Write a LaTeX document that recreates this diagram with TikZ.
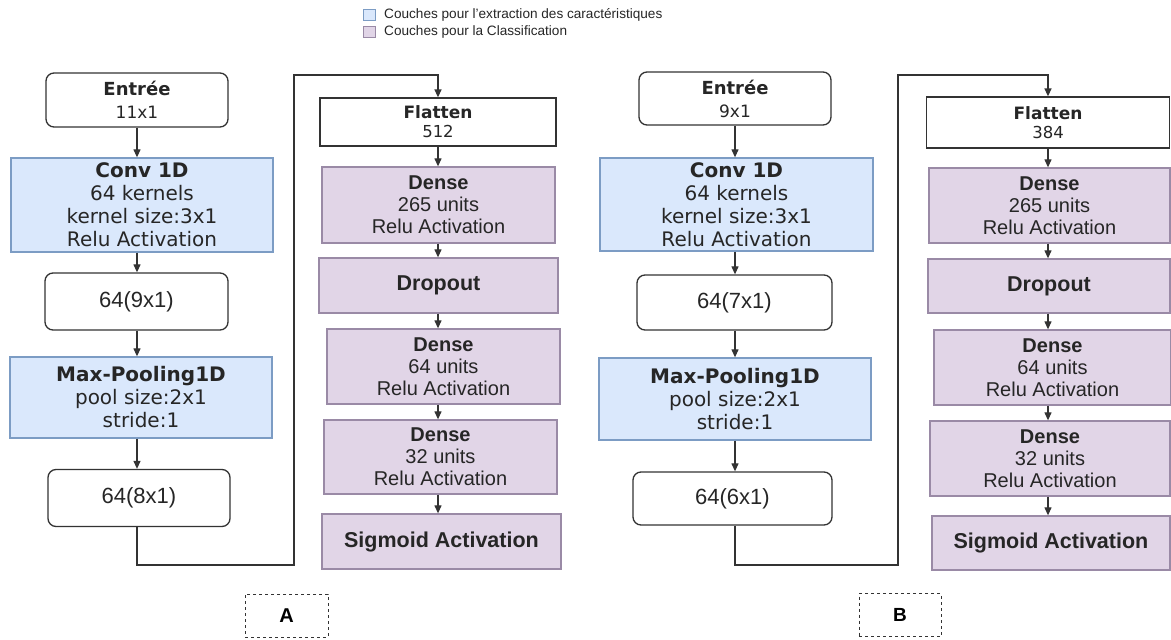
\documentclass[tikz,border=0pt]{standalone}
\usepackage{fontspec}
\setmainfont{Liberation Sans}
\newfontfamily\vfont{DejaVu Sans}
\usetikzlibrary{arrows.meta}

\definecolor{bluefill}{HTML}{DAE8FC}
\definecolor{blueline}{HTML}{7C9CC4}
\definecolor{purpfill}{HTML}{E1D5E7}
\definecolor{purpline}{HTML}{9A8AA6}
\definecolor{txt}{HTML}{262626}
\definecolor{edge}{HTML}{333333}

% font size helper (1pt = 1 drawing unit)
\newcommand{\fs}[2]{\fontsize{#1}{#2}\selectfont}

\tikzset{
  box/.style={draw, line width=1.3pt, inner sep=0pt, align=center, text=txt},
  featbox/.style={box, fill=bluefill, draw=blueline},
  clsbox/.style={box, fill=purpfill, draw=purpline},
  roundbox/.style={box, fill=white, draw=edge, rounded corners=8pt},
  plainbox/.style={box, fill=white, draw=edge},
  tagbox/.style={draw=edge, dashed, line width=0.9pt, inner sep=0pt, text=black},
  arr/.style={-{Triangle[length=8pt,width=7pt]}, line width=1.2pt, draw=edge},
  link/.style={-{Triangle[length=8pt,width=7pt]}, line width=1.4pt, draw=edge},
  vtext/.style={font=\vfont\fs{20}{23}},
  atext/.style={font=\fs{20}{22}},
  btext/.style={font=\fs{21.5}{22}\bfseries},
  ctext/.style={font=\fs{22}{23}},
  etext/.style={font=\vfont\fs{18}{23}},
  ftext/.style={font=\vfont\fs{17}{19}},
}

\begin{document}
\begin{tikzpicture}[x=1pt,y=-1pt]
\useasboundingbox (0,0) rectangle (1171,640);

% ---------- legend ----------
\node[draw=blueline, fill=bluefill, line width=0.8pt, minimum width=12pt, minimum height=11pt, inner sep=0pt] (lgA) at (369,14.5) {};
\node[draw=purpline, fill=purpfill, line width=0.8pt, minimum width=12pt, minimum height=11pt, inner sep=0pt] (lgB) at (369,32) {};
\node[anchor=west, inner sep=0pt, text=txt, font=\fs{13.6}{14}] (lgAt) at (384,14.5) {Couches pour l'extraction des caractéristiques};
\node[anchor=west, inner sep=0pt, text=txt, font=\fs{13.6}{14}] (lgBt) at (384,32) {Couches pour la Classification};

% ================= network A =================
\node[roundbox, etext, minimum width=182pt, minimum height=54pt] (entA) at (137,100)
  {\textbf{Entrée}\\\fs{17}{23}11x1};
\node[featbox, vtext, minimum width=262pt, minimum height=94pt] (convA) at (142,205)
  {\textbf{Conv 1D}\\64 kernels\\kernel size:3x1\\Relu Activation};
\node[roundbox, ctext, minimum width=183pt, minimum height=57pt] (c9A) at (136.5,301.5)
  {64(9x1)};
\node[featbox, vtext, minimum width=262pt, minimum height=81pt] (mpA) at (141,397.5)
  {\textbf{Max-Pooling1D}\\pool size:2x1\\stride:1};
\node[roundbox, ctext, minimum width=182pt, minimum height=57pt] (c8A) at (139,498)
  {64(8x1)};

\node[plainbox, ftext, minimum width=236pt, minimum height=48pt] (flA) at (438,122)
  {\textbf{Flatten}\\\fs{16.5}{19}512};
\node[clsbox, atext, minimum width=233pt, minimum height=76pt] (d1A) at (438.5,205)
  {\textbf{Dense}\\265 units\\Relu Activation};
\node[clsbox, btext, minimum width=239pt, minimum height=55pt] (drA) at (438.5,285.5)
  {Dropout};
\node[clsbox, atext, minimum width=233pt, minimum height=75pt] (d2A) at (443.5,366.5)
  {\textbf{Dense}\\64 units\\Relu Activation};
\node[clsbox, atext, minimum width=233pt, minimum height=74pt] (d3A) at (440.5,457)
  {\textbf{Dense}\\32 units\\Relu Activation};
\node[clsbox, btext, minimum width=239pt, minimum height=55pt] (sgA) at (441.5,541.5)
  {Sigmoid Activation};

\node[tagbox, font=\fs{20}{22}\bfseries, minimum width=83pt, minimum height=43pt] (tagA) at (286.5,615.5) {A};

% left column arrows
\draw[arr] (entA.south) -- (convA.north -| entA.south);
\draw[arr] (convA.south -| entA.south) -- (c9A.north -| entA.south);
\draw[arr] (c9A.south -| entA.south) -- (mpA.north -| entA.south);
\draw[arr] (mpA.south -| entA.south) -- (c8A.north -| entA.south);
% right column arrows
\draw[arr] (flA.south) -- (d1A.north -| flA.south);
\draw[arr] (d1A.south -| flA.south) -- (drA.north -| flA.south);
\draw[arr] (drA.south -| flA.south) -- (d2A.north -| flA.south);
\draw[arr] (d2A.south -| flA.south) -- (d3A.north -| flA.south);
\draw[arr] (d3A.south -| flA.south) -- (sgA.north -| flA.south);
% link from the convolution branch to Flatten
\coordinate (jA1) at (294,565);
\coordinate (jA2) at (294,75);
\draw[link] (c8A.south -| entA.south) |- (jA1) -- (jA2) -| (flA.north);

% ================= network B =================
\node[roundbox, etext, minimum width=192pt, minimum height=53pt] (entB) at (735,98.5)
  {\textbf{Entrée}\\\fs{17}{23}9x1};
\node[featbox, vtext, minimum width=273pt, minimum height=93pt] (convB) at (736.5,204.5)
  {\textbf{Conv 1D}\\64 kernels\\kernel size:3x1\\Relu Activation};
\node[roundbox, ctext, minimum width=195pt, minimum height=55pt] (c7B) at (734.5,302.5)
  {64(7x1)};
\node[featbox, vtext, minimum width=272pt, minimum height=82pt] (mpB) at (735,399)
  {\textbf{Max-Pooling1D}\\pool size:2x1\\stride:1};
\node[roundbox, ctext, minimum width=199pt, minimum height=53pt] (c6B) at (732.5,498.5)
  {64(6x1)};

\node[plainbox, ftext, minimum width=243pt, minimum height=51pt] (flB) at (1048,122.5)
  {\textbf{Flatten}\\\fs{16.5}{19}384};
\node[clsbox, atext, minimum width=241pt, minimum height=75pt] (d1B) at (1049.5,205.5)
  {\textbf{Dense}\\265 units\\Relu Activation};
\node[clsbox, btext, minimum width=242pt, minimum height=54pt] (drB) at (1049,286)
  {Dropout};
\node[clsbox, atext, minimum width=237pt, minimum height=75pt] (d2B) at (1052.5,367.5)
  {\textbf{Dense}\\64 units\\Relu Activation};
\node[clsbox, atext, minimum width=240pt, minimum height=75pt] (d3B) at (1050,458.5)
  {\textbf{Dense}\\32 units\\Relu Activation};
\node[clsbox, btext, minimum width=238pt, minimum height=54pt] (sgB) at (1051,543)
  {Sigmoid Activation};

\node[tagbox, font=\fs{19}{22}\bfseries, minimum width=82pt, minimum height=43pt] (tagB) at (900,615) {B};

% left column arrows
\draw[arr] (entB.south) -- (convB.north -| entB.south);
\draw[arr] (convB.south -| entB.south) -- (c7B.north -| entB.south);
\draw[arr] (c7B.south -| entB.south) -- (mpB.north -| entB.south);
\draw[arr] (mpB.south -| entB.south) -- (c6B.north -| entB.south);
% right column arrows
\draw[arr] (flB.south) -- (d1B.north -| flB.south);
\draw[arr] (d1B.south -| flB.south) -- (drB.north -| flB.south);
\draw[arr] (drB.south -| flB.south) -- (d2B.north -| flB.south);
\draw[arr] (d2B.south -| flB.south) -- (d3B.north -| flB.south);
\draw[arr] (d3B.south -| flB.south) -- (sgB.north -| flB.south);
% link from the convolution branch to Flatten
\coordinate (jB1) at (898,565);
\coordinate (jB2) at (898,75);
\draw[link] (c6B.south -| entB.south) |- (jB1) -- (jB2) -| (flB.north);
\end{tikzpicture}
\end{document}
